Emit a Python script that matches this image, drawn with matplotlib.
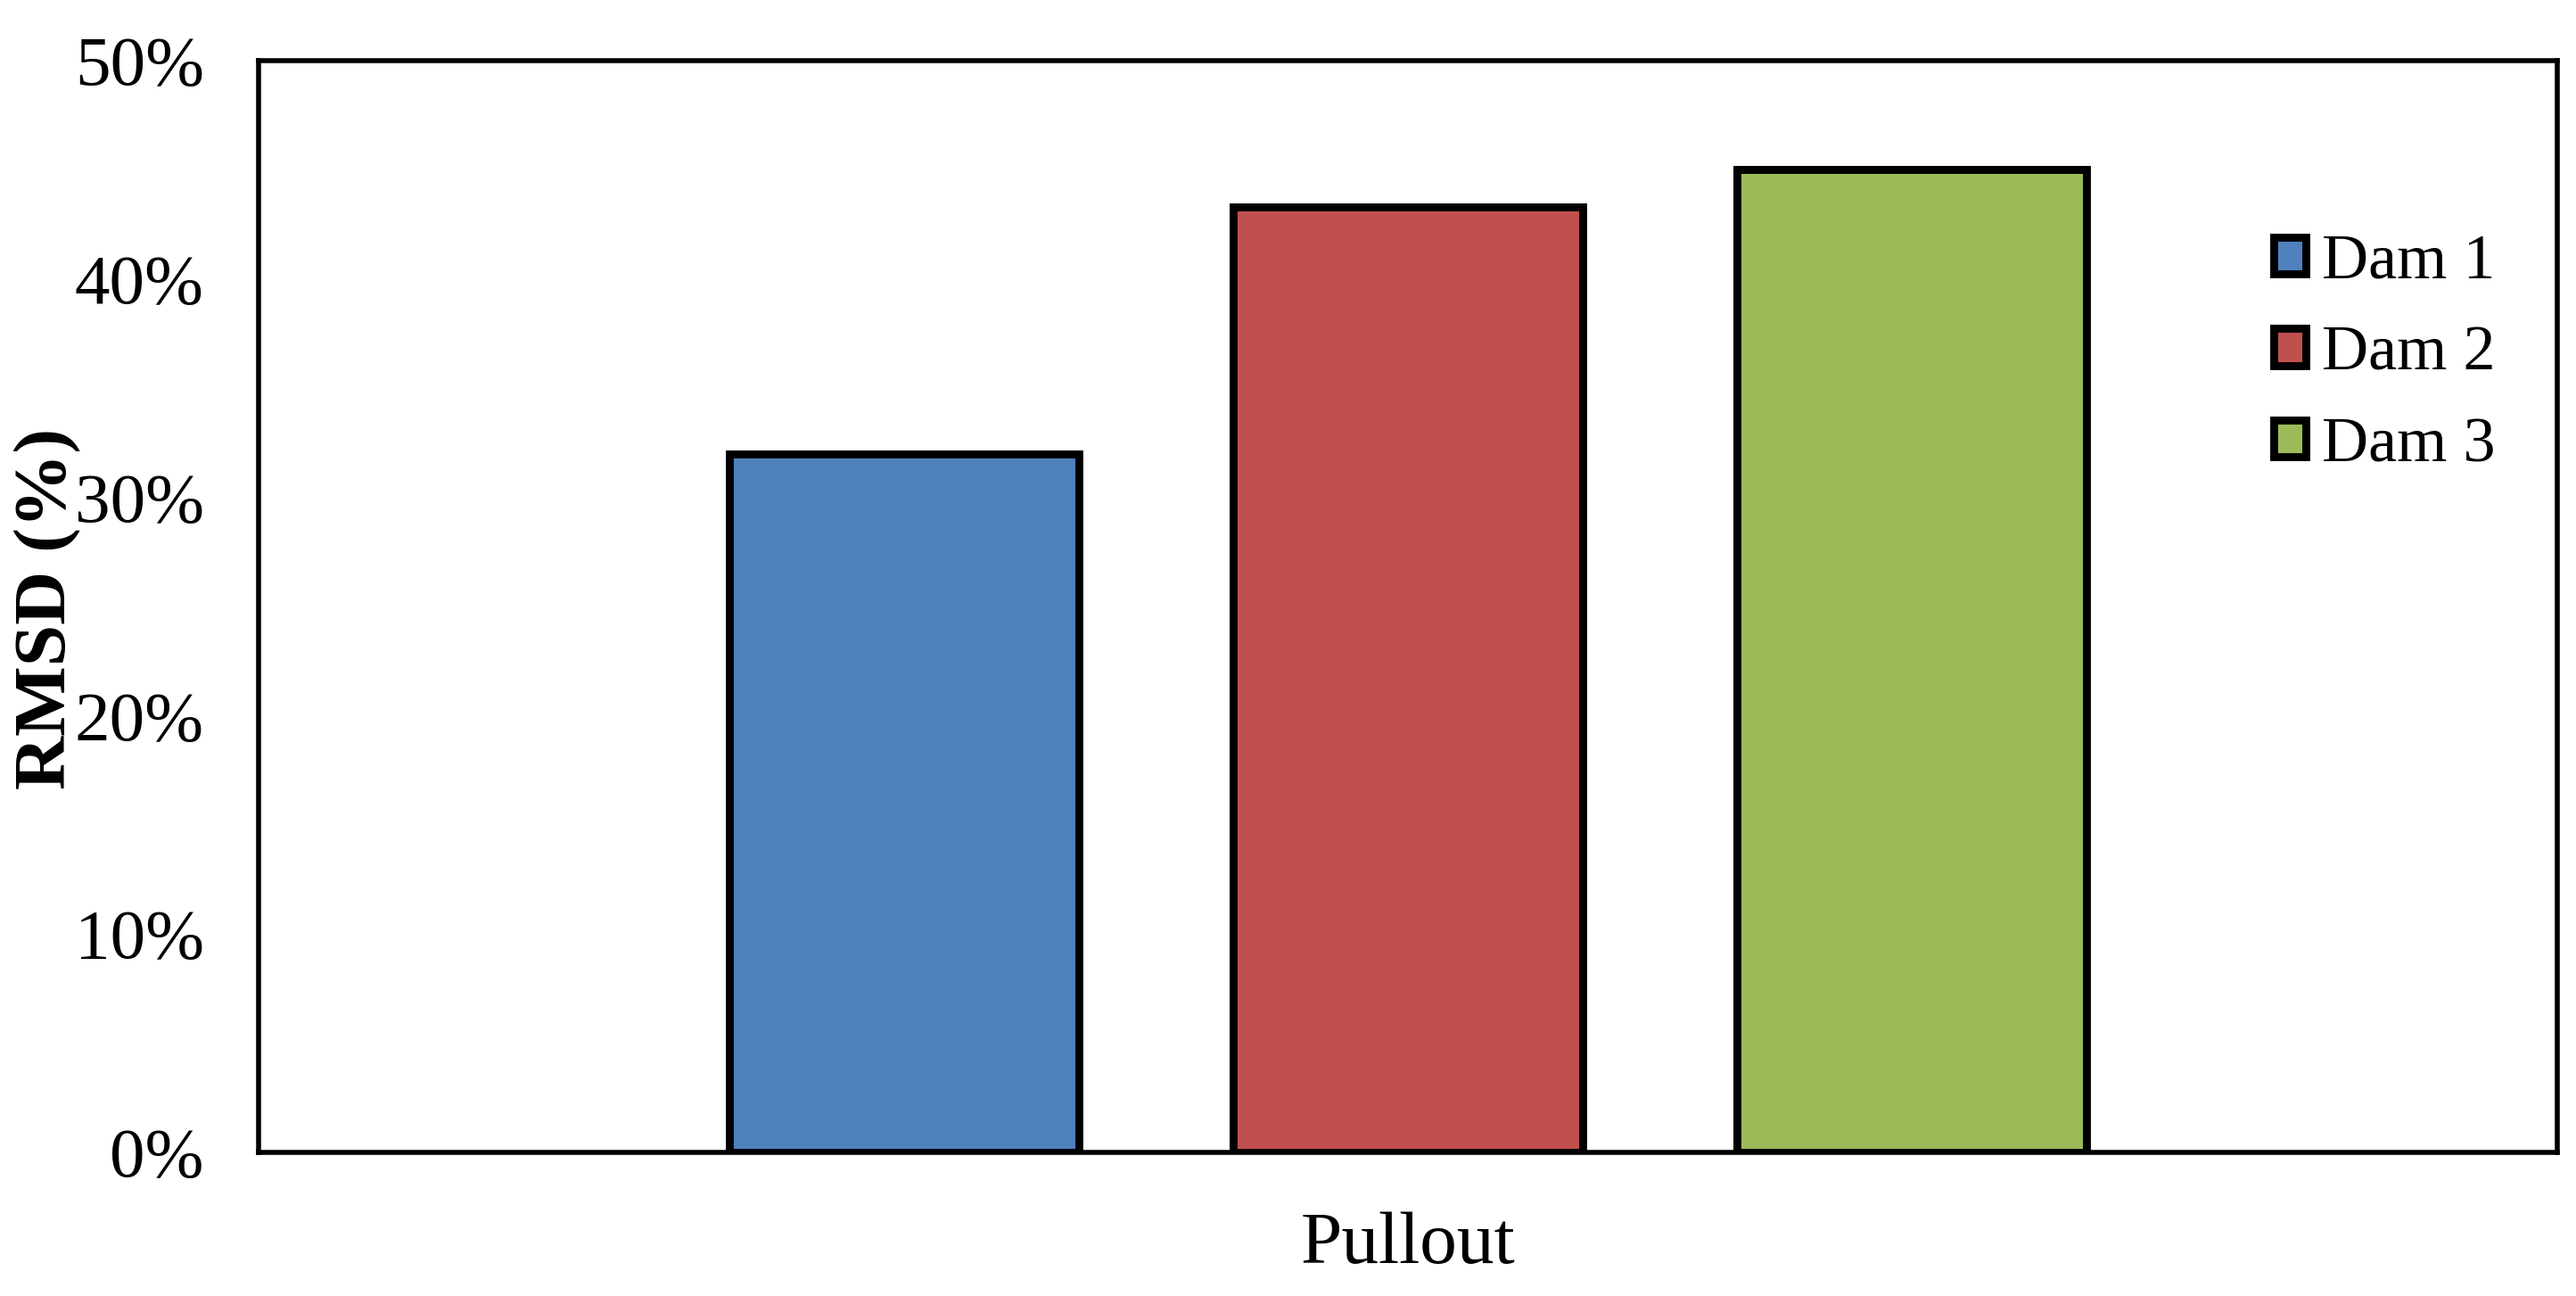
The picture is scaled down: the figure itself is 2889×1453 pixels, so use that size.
import matplotlib
matplotlib.use("Agg")
import matplotlib.pyplot as plt
from matplotlib.ticker import FuncFormatter
from matplotlib.patches import Patch

categories = ["Pullout"]
series_names = ["Dam 1", "Dam 2", "Dam 3"]
series_values = [[32.0], [43.3], [45.0]]
series_colors = ["#4F81BD", "#C0504D", "#9BBB59"]
y_ticks = [0, 10, 20, 30, 40, 50]
y_label = "RMSD (%)"

plt.rcParams['font.family'] = ['Liberation Serif', 'DejaVu Serif']

DPI = 200
fig = plt.figure(figsize=(2889 / DPI, 1453 / DPI), dpi=DPI)
ax = fig.add_axes([290 / 2889, 1 - 1292 / 1453, (2868 - 290) / 2889, (1292 - 68) / 1453])

offset = 0.219
width = 0.152
x = range(len(categories))
for i, (name, vals, col) in enumerate(zip(series_names, series_values, series_colors)):
    xs = [xi + (i - 1) * offset for xi in x]
    ax.bar(xs, vals, width=width, color=col, edgecolor='black', linewidth=3.2,
           label=name, zorder=3)

ax.set_xlim(-0.5, len(categories) - 0.5)
ax.set_ylim(0, 50)
ax.set_yticks(y_ticks)
ax.yaxis.set_major_formatter(FuncFormatter(lambda v, p: f"{v:.0f}%"))
ax.set_xticks(list(x))
ax.set_xticklabels(categories)
ax.tick_params(axis='y', length=0, pad=22, labelsize=28.5)
ax.tick_params(axis='x', length=0, pad=24, labelsize=30)
for sp in ax.spines.values():
    sp.set_linewidth(2.0)
    sp.set_color('black')

fig.text(54 / 2889, 1 - 682 / 1453, y_label, rotation=90, ha='center', va='center',
         fontsize=30, fontweight='bold')

handles = [Patch(facecolor=c, edgecolor='black', linewidth=3.2) for c in series_colors]
leg = ax.legend(handles, series_names, loc='upper left',
                bbox_to_anchor=(2550 / 2889, 1 - 262 / 1453), bbox_transform=fig.transFigure,
                frameon=False, fontsize=26, handlelength=0.5, handleheight=0.5,
                handletextpad=0.25, labelspacing=0.52, borderpad=0, borderaxespad=0)

fig.savefig("out.png", dpi=DPI)
